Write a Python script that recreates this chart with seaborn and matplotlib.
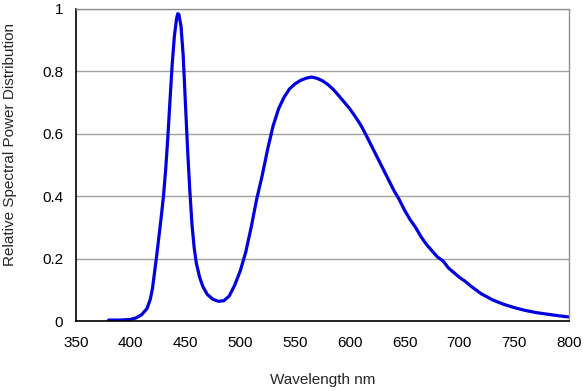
import numpy as np
import pandas as pd
import matplotlib
matplotlib.use('Agg')
import matplotlib.pyplot as plt
import seaborn as sns

# values
wavelength = [380, 390, 400, 405, 410, 415, 418, 420, 422, 424, 426, 428, 430, 432,
              434, 436, 438, 440, 442, 443, 444, 446, 448, 450, 452, 454, 456, 458,
              460, 463, 466, 470, 475, 480, 485, 490, 495, 500, 505, 510, 515,
              520, 525, 530, 535, 540, 545, 550, 555, 560, 565, 570, 575, 580, 585,
              590, 595, 600, 605, 610, 615, 620, 625, 630, 635, 640, 645, 650, 655,
              660, 665, 670, 675, 680, 685, 690, 695, 700, 705, 710, 715, 720, 725,
              730, 740, 750, 760, 770, 780, 790, 800]
power = [0.003, 0.003, 0.005, 0.010, 0.020, 0.040, 0.070, 0.105, 0.160, 0.215, 0.275, 0.335, 0.400, 0.485,
         0.590, 0.710, 0.825, 0.915, 0.970, 0.985, 0.983, 0.945, 0.850, 0.700, 0.550, 0.420, 0.310, 0.235,
         0.185, 0.140, 0.110, 0.085, 0.070, 0.063, 0.065, 0.080, 0.115, 0.160, 0.220, 0.300, 0.390,
         0.465, 0.550, 0.625, 0.680, 0.717, 0.744, 0.760, 0.771, 0.778, 0.782, 0.778, 0.770, 0.758, 0.742,
         0.722, 0.701, 0.680, 0.655, 0.628, 0.595, 0.560, 0.525, 0.490, 0.455, 0.420, 0.390, 0.355, 0.325,
         0.300, 0.270, 0.245, 0.225, 0.205, 0.193, 0.170, 0.155, 0.140, 0.128, 0.113, 0.100, 0.087, 0.078,
         0.068, 0.054, 0.043, 0.034, 0.027, 0.022, 0.017, 0.013]
xticks = [350, 400, 450, 500, 550, 600, 650, 700, 750, 800]
yticks = [0, 0.2, 0.4, 0.6, 0.8, 1]
ytick_labels = ['0', '0.2', '0.4', '0.6', '0.8', '1']

df = pd.DataFrame({'wavelength': wavelength, 'power': power})

sns.set_style('white')
plt.rcParams['font.family'] = ['Liberation Sans', 'DejaVu Sans']

fig = plt.figure(figsize=(5.83, 3.91), dpi=100)
ax = fig.add_axes([0.130, 0.179, 0.846, 0.798])

sns.lineplot(data=df, x='wavelength', y='power', ax=ax, color='#0000E0', linewidth=2.3)

ax.set_xlim(350, 800)
ax.set_ylim(0, 1)
ax.set_xticks(xticks)
ax.set_yticks(yticks)
ax.set_yticklabels(ytick_labels)
ax.tick_params(axis='both', labelsize=11, colors='black', direction='out',
               length=4, width=0.8, pad=5)
ax.tick_params(axis='x', pad=7)
ax.yaxis.grid(True, color='#a0a0a0', linewidth=1)
ax.set_axisbelow(True)

for side in ['left', 'bottom']:
    ax.spines[side].set_color('black')
    ax.spines[side].set_linewidth(1.2)
for side in ['top', 'right']:
    ax.spines[side].set_color('#909090')
    ax.spines[side].set_linewidth(1)

ax.set_xlabel('Wavelength nm', fontsize=11, labelpad=16)
ax.set_ylabel('')
# y title sits a bit above the plot centre in the reference
fig.text(10.5 / 583, 1 - 145 / 391, 'Relative Spectral Power Distribution', fontsize=11,
         rotation=90, ha='center', va='center')

fig.savefig('out.png', dpi=100)
